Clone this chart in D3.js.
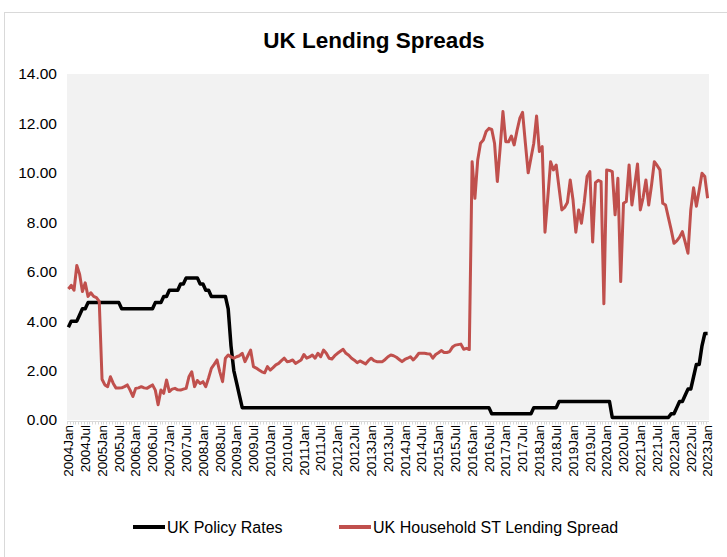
<!DOCTYPE html>
<html>
<head>
<meta charset="utf-8">
<script src="https://cdn.jsdelivr.net/npm/d3@7"></script>
<style>
  body { margin: 0; background: #fff; }
  text { font-family: "Liberation Sans", Arial, sans-serif; fill: #000; }
</style>
</head>
<body>
<main></main>
<script>
var w = 727;
var h = 557;

// categories: monthly, 2004 Jan .. 2023 Jan
var years = d3.range(2004, 2024);
var monthNames = ["Jan", "Feb", "Mar", "Apr", "May", "Jun", "Jul", "Aug", "Sep", "Oct", "Nov", "Dec"];
var months = [];
years.forEach(function (y) {
  monthNames.forEach(function (m) {
    if (y < 2023 || m === "Jan") months.push(y + m);
  });
});

var yTicks = [0, 2, 4, 6, 8, 10, 12, 14];

var seriesNames = ["UK Policy Rates", "UK Household ST Lending Spread"];

// UK Policy Rates (%)
var policyRates = [
  3.75, 4.0, 4.0, 4.0, 4.25, 4.5, 4.5, 4.75, 4.75, 4.75, 4.75, 4.75,   // 2004
  4.75, 4.75, 4.75, 4.75, 4.75, 4.75, 4.75, 4.5, 4.5, 4.5, 4.5, 4.5,   // 2005
  4.5, 4.5, 4.5, 4.5, 4.5, 4.5, 4.5, 4.75, 4.75, 4.75, 5.0, 5.0,       // 2006
  5.25, 5.25, 5.25, 5.25, 5.5, 5.5, 5.75, 5.75, 5.75, 5.75, 5.75, 5.5, // 2007
  5.5, 5.25, 5.25, 5.0, 5.0, 5.0, 5.0, 5.0, 5.0, 4.5, 3.0, 2.0,        // 2008
  1.5, 1.0, 0.5, 0.5, 0.5, 0.5, 0.5, 0.5, 0.5, 0.5, 0.5, 0.5,          // 2009
  0.5, 0.5, 0.5, 0.5, 0.5, 0.5, 0.5, 0.5, 0.5, 0.5, 0.5, 0.5,          // 2010
  0.5, 0.5, 0.5, 0.5, 0.5, 0.5, 0.5, 0.5, 0.5, 0.5, 0.5, 0.5,          // 2011
  0.5, 0.5, 0.5, 0.5, 0.5, 0.5, 0.5, 0.5, 0.5, 0.5, 0.5, 0.5,          // 2012
  0.5, 0.5, 0.5, 0.5, 0.5, 0.5, 0.5, 0.5, 0.5, 0.5, 0.5, 0.5,          // 2013
  0.5, 0.5, 0.5, 0.5, 0.5, 0.5, 0.5, 0.5, 0.5, 0.5, 0.5, 0.5,          // 2014
  0.5, 0.5, 0.5, 0.5, 0.5, 0.5, 0.5, 0.5, 0.5, 0.5, 0.5, 0.5,          // 2015
  0.5, 0.5, 0.5, 0.5, 0.5, 0.5, 0.5, 0.25, 0.25, 0.25, 0.25, 0.25,     // 2016
  0.25, 0.25, 0.25, 0.25, 0.25, 0.25, 0.25, 0.25, 0.25, 0.25, 0.5, 0.5, // 2017
  0.5, 0.5, 0.5, 0.5, 0.5, 0.5, 0.5, 0.75, 0.75, 0.75, 0.75, 0.75,     // 2018
  0.75, 0.75, 0.75, 0.75, 0.75, 0.75, 0.75, 0.75, 0.75, 0.75, 0.75, 0.75, // 2019
  0.75, 0.75, 0.1, 0.1, 0.1, 0.1, 0.1, 0.1, 0.1, 0.1, 0.1, 0.1,        // 2020
  0.1, 0.1, 0.1, 0.1, 0.1, 0.1, 0.1, 0.1, 0.1, 0.1, 0.1, 0.25,         // 2021
  0.25, 0.5, 0.75, 0.75, 1.0, 1.25, 1.25, 1.75, 2.25, 2.25, 3.0, 3.5,  // 2022
  3.5                                                                   // 2023
];

// UK Household ST Lending Spread (%)
var lendingSpread = [
  5.3, 5.45, 5.25, 6.25, 5.9, 5.2, 5.55, 5.0, 5.15, 5.0, 4.95, 4.8,           // 2004
  1.65, 1.42, 1.35, 1.75, 1.48, 1.29, 1.29, 1.3, 1.35, 1.42, 1.21, 0.95,      // 2005
  1.28, 1.3, 1.35, 1.3, 1.28, 1.35, 1.42, 1.21, 0.62, 1.21, 1.08, 1.62,       // 2006
  1.15, 1.25, 1.28, 1.22, 1.21, 1.25, 1.28, 1.75, 1.95, 1.35, 1.6, 1.48,      // 2007
  1.55, 1.35, 1.7, 2.09, 2.25, 2.43, 1.95, 1.55, 2.5, 2.63, 2.55, 2.5,        // 2008
  2.56, 2.6, 2.7, 2.36, 2.6, 2.83, 2.16, 2.1, 2.02, 1.95, 1.91, 2.16,         // 2009
  2.02, 2.12, 2.23, 2.29, 2.4, 2.5, 2.36, 2.38, 2.43, 2.29, 2.36, 2.43,       // 2010
  2.65, 2.5, 2.55, 2.63, 2.5, 2.7, 2.56, 2.83, 2.7, 2.5, 2.47, 2.6,           // 2011
  2.7, 2.78, 2.86, 2.7, 2.62, 2.5, 2.42, 2.32, 2.39, 2.33, 2.27, 2.4,         // 2012
  2.5, 2.4, 2.36, 2.36, 2.36, 2.45, 2.56, 2.63, 2.6, 2.54, 2.45, 2.36,        // 2013
  2.45, 2.5, 2.56, 2.43, 2.55, 2.7, 2.7, 2.7, 2.68, 2.67, 2.5, 2.65,          // 2014
  2.72, 2.81, 2.73, 2.73, 2.77, 2.95, 3.03, 3.05, 3.07, 2.86, 2.9, 2.85,      // 2015
  10.45, 8.97, 10.52, 11.2, 11.33, 11.67, 11.8, 11.76, 11.2, 9.65, 11.0, 12.48, // 2016
  11.26, 11.26, 11.49, 11.13, 11.7, 12.2, 12.45, 11.2, 10.0, 10.6, 11.2, 12.3,  // 2017
  10.86, 11.06, 7.6, 9.0, 10.45, 10.12, 10.32, 9.4, 8.5, 8.6, 8.8, 9.71,      // 2018
  8.9, 7.6, 8.5, 7.96, 8.8, 9.85, 10.05, 7.2, 9.6, 9.7, 9.65, 4.7,            // 2019
  10.12, 10.1, 10.05, 8.3, 9.78, 5.6, 8.77, 8.84, 10.32, 8.7, 9.5, 10.36,     // 2020
  8.5, 9.0, 9.71, 8.7, 9.5, 10.45, 10.3, 10.12, 8.77, 8.7, 8.2, 7.7,          // 2021
  7.15, 7.25, 7.4, 7.62, 7.2, 6.75, 8.5, 9.4, 8.65, 9.3, 9.98, 9.85,          // 2022
  8.97                                                                         // 2023
];

var colors = ["#000000", "#c0504d"];

var plot = { left: 67, right: 709, top: 74, bottom: 420 };

var svg = d3.select("main").append("svg").attr("width", w).attr("height", h);

// outer chart border
svg.append("rect")
  .attr("x", 4.5).attr("y", 12.5)
  .attr("width", w + 20).attr("height", h + 20)
  .attr("fill", "#fff")
  .attr("stroke", "#d9d9d9");

// plot area
svg.append("rect")
  .attr("x", plot.left).attr("y", plot.top)
  .attr("width", plot.right - plot.left).attr("height", plot.bottom - plot.top)
  .attr("fill", "#f2f2f2");

// SCALES
var xScale = d3.scalePoint()
  .domain(months)
  .range([plot.left, plot.right])
  .padding(0.5);
var step = xScale.step();

var yScale = d3.scaleLinear()
  .domain([0, 14])
  .range([plot.bottom, plot.top]);

// title
svg.append("text")
  .attr("x", 374).attr("y", 48)
  .attr("text-anchor", "middle")
  .attr("font-size", "22.5px")
  .attr("font-weight", "bold")
  .text("UK Lending Spreads");

// y axis labels
var yAxis = d3.axisLeft(yScale)
  .tickValues(yTicks)
  .tickSize(0)
  .tickPadding(0)
  .tickFormat(d3.format(".2f"));
var gy = svg.append("g")
  .attr("transform", "translate(57,0)")
  .call(yAxis);
gy.select(".domain").remove();
gy.selectAll("text")
  .attr("font-size", "15.5px")
  .attr("font-family", "Liberation Sans, Arial, sans-serif");

// x axis line and small category ticks
svg.append("line")
  .attr("x1", plot.left).attr("x2", plot.right)
  .attr("y1", plot.bottom + 1.5).attr("y2", plot.bottom + 1.5)
  .attr("stroke", "#d9d9d9");
svg.append("g")
  .selectAll("line")
  .data(months)
  .enter()
  .append("line")
  .attr("x1", function (d) { return Math.round(xScale(d) - step / 2) + 0.5; })
  .attr("x2", function (d) { return Math.round(xScale(d) - step / 2) + 0.5; })
  .attr("y1", plot.bottom + 1.5)
  .attr("y2", plot.bottom + 4.5)
  .attr("stroke", "#d9d9d9");

// x axis labels every 6 months
var xAxis = d3.axisBottom(xScale)
  .tickValues(months.filter(function (d, i) { return i % 6 === 0; }))
  .tickSize(0)
  .tickPadding(0);
var gx = svg.append("g")
  .attr("transform", "translate(0," + (plot.bottom + 5) + ")")
  .call(xAxis);
gx.select(".domain").remove();
gx.selectAll("text")
  .attr("font-size", "13.5px")
  .attr("font-family", "Liberation Sans, Arial, sans-serif")
  .attr("text-anchor", "end")
  .attr("dy", "0.35em")
  .attr("transform", "rotate(-90)")
  .attr("x", 0)
  .attr("y", 0)
  .each(function (d) {
    d3.select(this.parentNode).attr("transform", "translate(" + xScale(d) + ",0)");
  });

// LINES
var line = d3.line()
  .x(function (d, i) { return xScale(months[i]); })
  .y(function (d) { return yScale(d); });

svg.append("path")
  .datum(policyRates)
  .attr("fill", "none")
  .attr("stroke", colors[0])
  .attr("stroke-width", 3.5)
  .attr("stroke-linejoin", "round")
  .attr("d", line);

svg.append("path")
  .datum(lendingSpread)
  .attr("fill", "none")
  .attr("stroke", colors[1])
  .attr("stroke-width", 3)
  .attr("stroke-linejoin", "round")
  .attr("d", line);

// LEGEND
var legendX = [133, 339];
var legend = svg.selectAll("g.legend")
  .data(seriesNames)
  .enter()
  .append("g")
  .attr("class", "legend")
  .attr("transform", function (d, i) { return "translate(" + legendX[i] + ",527)"; });
legend.append("line")
  .attr("x1", 0).attr("x2", 32)
  .attr("stroke", function (d, i) { return colors[i]; })
  .attr("stroke-width", 4);
legend.append("text")
  .attr("x", 34)
  .attr("dy", "0.35em")
  .attr("font-size", "16px")
  .text(function (d) { return d; });
</script>
</body>
</html>
